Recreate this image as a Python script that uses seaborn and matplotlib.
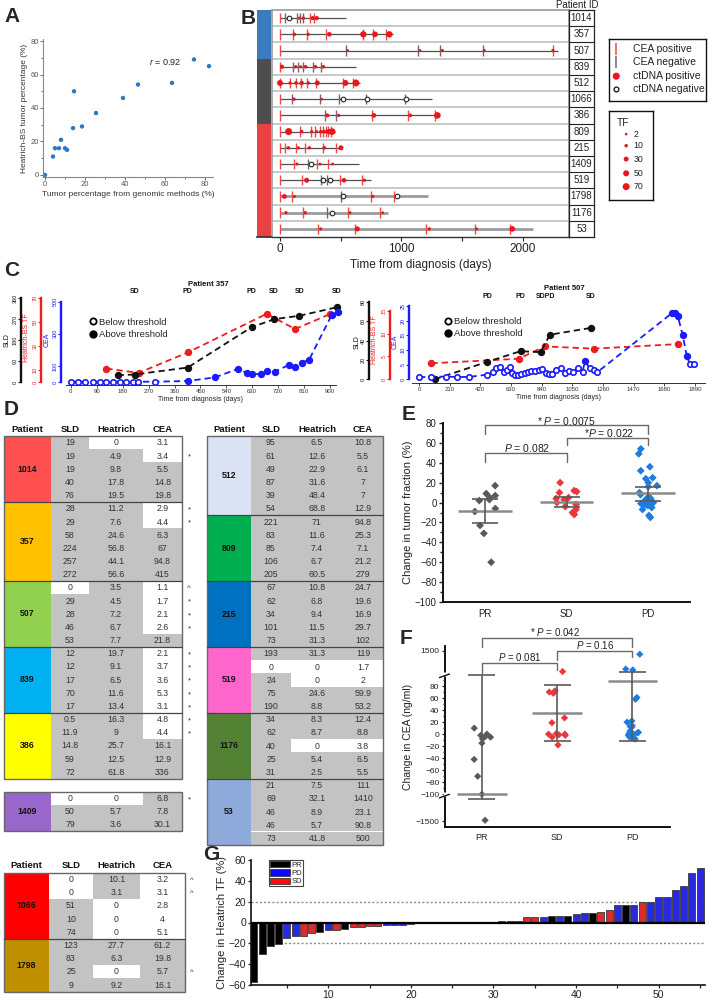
import numpy as np
import pandas as pd
import matplotlib
matplotlib.use("Agg")
import matplotlib.pyplot as plt
import seaborn as sns
from matplotlib.lines import Line2D
from matplotlib.patches import Patch, Rectangle
from matplotlib.ticker import MultipleLocator, FixedLocator
import matplotlib.transforms as mtrans

# ======================= DATA =======================
# Panel A
a_genomic = [0, 4, 5, 7, 8, 10, 11, 14, 14.5, 18.5, 25.5, 39, 46.5, 63.5, 74.5, 82]
a_heatrich = [0, 11, 16, 16, 21, 16, 15, 28, 50, 29, 37, 46, 54, 55, 69, 65]

# Panel B
b_ids = ['1014', '357', '507', '839', '512', '1066', '386', '809', '215', '1409', '519', '1798', '1176', '53']
b_group = ['blue'] * 3 + ['dark'] * 4 + ['red'] * 7
b_follow = [543, 933, 2290, 625, 658, 1248, 1317, 453, 502, 653, 749, 1221, 886, 2085]
b_cea_pos = [[0, 247, 283], [0, 104, 219, 379, 680, 768, 872], [0, 2247], [0],
             [0, 82, 128, 169, 219, 297, 516, 603], [0], [0, 754, 1056, 1275],
             [0, 165, 252, 288, 329, 357, 379, 398, 417], [0, 41, 132, 206, 351, 461],
             [0, 115, 302, 398], [0, 178, 494, 672], [0, 96, 746, 938], [0, 187, 559, 827],
             [0, 316, 617, 1201, 1607, 1893]]
b_cea_neg = [[41, 137, 165, 187], [], [543, 1138, 1317, 1668], [110, 151, 192, 269, 337], [],
             [96, 329, 486, 708, 1029], [370, 461], [], [], [233], [335, 390], [499], [384], []]
b_ct_pos_t = [[159, 192, 269, 302], [118, 233, 406, 686, 782, 900], [557, 1152, 1336, 1681, 2247],
              [16, 129, 170, 211, 291, 357], [0, 82, 132, 178, 233, 307, 538, 625], [115, 343],
              [390, 483, 773, 1072, 1295], [71, 178, 261, 302, 335, 362, 390, 411, 430],
              [69, 151, 241, 365, 502], [140, 329, 433], [219, 527, 694], [36, 118, 763],
              [49, 208, 576, 845], [335, 636, 1229, 1618, 1912]]
b_ct_pos_tf = [[4.9, 9.8, 17.8, 19.5], [11.2, 7.6, 24.6, 56.8, 44.1, 56.6], [3.5, 4.5, 7.2, 6.7, 7.7],
               [19.7, 9.1, 6.5, 11.6, 13.4, 12], [48, 6.5, 12.6, 22.9, 10, 31.6, 48.4, 68.8], [10.1, 3.1],
               [16.3, 9, 25.7, 12.5, 61.8], [71, 11.6, 7.4, 6.7, 10, 15, 20, 40, 60.5],
               [10.8, 6.8, 9.4, 11.5, 31.3], [5.7, 3.6, 5], [31.3, 24.6, 8.8], [27.7, 6.3, 9.2],
               [8.3, 8.7, 5.4, 2.5], [7.5, 32.1, 8.9, 5.7, 41.8]]
b_ct_neg_t = [[77], [], [], [], [], [516, 713, 1037], [], [], [], [255], [351, 411], [521, 966], [425], []]
b_tf_legend = [2, 10, 30, 50, 70]

# Panel C - patient 357
c1_sld_days = [162, 221, 406, 628, 706, 794, 923]
c1_sld = [29, 32, 62, 235, 269, 284, 320]
c1_tf_days = [123, 235, 406, 680, 779, 900]
c1_tf = [11.2, 7.6, 24.6, 56.8, 44.1, 56.6]
c1_cea_days = [0, 23, 50, 76, 100, 123, 146, 169, 192, 215, 233, 293, 406, 501, 582, 611, 628,
               660, 683, 709, 759, 779, 802, 828, 906, 929]
c1_cea = [2, 2, 2, 2, 2, 2, 2, 2, 2, 2, 2, 2, 6, 29, 83, 56, 52, 48, 67, 65, 108, 94, 119, 140, 417, 433]
c1_cea_above = [0] * 12 + [1] * 14
c1_resp = ['SD', 'PD', 'PD', 'SD', 'SD', 'SD']
c1_resp_days = [221, 406, 628, 706, 794, 923]

# Panel C - patient 507
c2_sld_days = [107, 466, 695, 832, 896, 1175]
c2_sld = [0, 18, 29, 28, 46, 53]
c2_tf_days = [85, 683, 861, 1197, 1771]
c2_tf = [3.5, 4.5, 7.2, 6.7, 7.7]
c2_cea_days = [0, 85, 187, 260, 343, 466, 507, 530, 553, 580, 603, 622, 640, 656, 679, 701, 729, 747,
               770, 797, 820, 843, 866, 889, 912, 941, 969, 999, 1026, 1056, 1090, 1120, 1136, 1170,
               1197, 1220, 1730, 1753, 1771, 1805, 1833, 1855, 1885]
c2_cea = [0.7, 0.9, 0.9, 0.8, 0.8, 1.6, 2.4, 3.7, 4.3, 2.6, 3.2, 4.3, 2.3, 1.5, 1.5, 1.7, 2.3, 2.4,
          2.8, 2.9, 3.2, 3.4, 2.3, 1.7, 1.7, 3.2, 3.7, 2.3, 3.0, 2.6, 3.7, 2.6, 6.2, 3.7, 3.2, 2.4,
          22.5, 22.7, 21.7, 15.1, 8.0, 5.1, 5.1]
c2_cea_above = [0] * 32 + [1] + [0] * 3 + [1] * 5 + [0] * 2
c2_resp = ['PD', 'PD', 'SDPD', 'SD']
c2_resp_days = [466, 695, 864, 1175]

# Panel D tables
d1_pat = ['1014', '357', '507', '839', '386']
d1_col = ['#ff5050', '#ffc000', '#92d050', '#00b0f0', '#ffff00']
d1_sld = [[19, 19, 19, 40, 76], [28, 29, 58, 224, 257, 272], [0, 29, 28, 46, 53], [12, 12, 17, 70, 17],
          [0.5, 11.9, 14.8, 59, 72]]
d1_hr = [[0, 4.9, 9.8, 17.8, 19.5], [11.2, 7.6, 24.6, 56.8, 44.1, 56.6], [3.5, 4.5, 7.2, 6.7, 7.7],
         [19.7, 9.1, 6.5, 11.6, 13.4], [16.3, 9, 25.7, 12.5, 61.8]]
d1_cea = [[3.1, 3.4, 5.5, 14.8, 19.8], [2.9, 4.4, 6.3, 67, 94.8, 415], [1.1, 1.7, 2.1, 2.6, 21.8],
          [2.1, 3.7, 3.6, 5.3, 3.1], [4.8, 4.4, 16.1, 12.9, 336]]
d1_white = [['HC', 'C', '', '', ''], ['C', 'C', '', '', '', ''], ['SC', 'C', 'C', 'C', ''],
            ['C', 'C', 'C', 'C', 'C'], ['C', 'C', '', '', '']]
d1_mark = [['', '*', '', '', ''], ['*', '*', '', '', '', ''], ['^', '*', '*', '*', ''],
           ['*', '*', '*', '*', '*'], ['*', '*', '', '', '']]

d2_pat = ['1409']
d2_col = ['#9966cc']
d2_sld = [[0, 50, 79]]
d2_hr = [[0, 5.7, 3.6]]
d2_cea = [[6.8, 7.8, 30.1]]
d2_white = [['SH', '', '']]
d2_mark = [['*', '', '']]

d3_pat = ['1066', '1798']
d3_col = ['#ff0000', '#bf8f00']
d3_sld = [[0, 0, 51, 10, 74], [123, 83, 25, 9]]
d3_hr = [[10.1, 3.1, 0, 0, 0], [27.7, 6.3, 0, 9.2]]
d3_cea = [[3.2, 3.1, 2.8, 4, 5.1], [61.2, 19.8, 5.7, 16.1]]
d3_white = [['SC', 'SC', 'HC', 'HC', 'HC'], ['', '', 'H', '']]
d3_mark = [['^', '^', '', '', ''], ['', '', '^', '']]

d4_pat = ['512', '809', '215', '519', '1176', '53']
d4_col = ['#dae3f3', '#00b050', '#0070c0', '#ff66cc', '#548235', '#8eaadb']
d4_sld = [[95, 61, 49, 87, 39, 54], [221, 83, 85, 106, 205], [67, 62, 34, 101, 73],
          [193, 0, 24, 75, 190], [34, 62, 40, 25, 31], [21, 69, 46, 46, 73]]
d4_hr = [[6.5, 12.6, 22.9, 31.6, 48.4, 68.8], [71, 11.6, 7.4, 6.7, 60.5], [10.8, 6.8, 9.4, 11.5, 31.3],
         [31.3, 0, 0, 24.6, 8.8], [8.3, 8.7, 0, 5.4, 2.5], [7.5, 32.1, 8.9, 5.7, 41.8]]
d4_cea = [[10.8, 5.5, 6.1, 7, 7, 12.9], [94.8, 25.3, 7.1, 21.2, 279], [24.7, 19.6, 16.9, 29.7, 102],
          [119, 1.7, 2, 59.9, 53.2], [12.4, 8.8, 3.8, 6.5, 5.5], [111, 1410, 23.1, 90.8, 500]]
d4_white = [[''] * 6, [''] * 5, [''] * 5, ['', 'SHC', 'HC', '', ''], ['', '', 'HC', '', ''], [''] * 5]
d4_mark = [[''] * 6, [''] * 5, [''] * 5, [''] * 5, [''] * 5, [''] * 5]

# Panel E
resp_order = ['PR', 'SD', 'PD']
e_pr = [17, 9, 7, 5, 3, 2, -6, -9, -23, -31, -60]
e_sd = [20, 12, 11, 10, 5, 4, 3, 0, -2, -4, -7, -10, -12]
e_pd = [54, 49, 36, 32, 25, 24, 20, 17, 16, 10, 8, 6, 5, 4, 3, 2, 2, 1, 0, -1, -2, -3, -5, -7, -13, -15]
e_mean = [-8, 1, 9.5]
e_lo = [-21, -4, 2]
e_hi = [4, 6, 16]

# Panel F
f_pr = [10, 0, -2, -3, -5, -8, -15, -42, -70, -100, -1450]
f_sd = [250, 72, 70, 68, 27, 19, 1, 0, 0, -1, -2, -5, -18]
f_pd = [1300, 400, 350, 61, 58, 22, 20, 14, 13, 12, 5, 3, 2, 1, 0, -2, -3, -5, -8]
f_mean = [-100, 35, 88]
f_lo = [-345, -12, -12]
f_hi = [98, 82, 220]

# Panel G
g_vals = [-57, -30, -22.5, -20.5, -15, -12.7, -12.7, -10, -8.7, -6.8, -6.8, -6.2, -4, -4, -3.4, -3.4,
          -2.8, -2.8, -2.5, -1.9, -0.8, -0.5, -0.3, -0.1, 0.1, 0.3, 0.4, 0.5, 0.6, 0.7, 1.0, 1.2, 1.5,
          5.0, 5.0, 5.3, 5.9, 5.9, 6.5, 8.0, 8.7, 9.3, 10.2, 12.1, 16.4, 16.4, 16.4, 19.5, 19.8, 24.2,
          24.2, 31.6, 35, 47.8, 52]
g_resp = ['PR', 'PR', 'PR', 'PR', 'PD', 'PD', 'SD', 'SD', 'PR', 'PD', 'SD', 'PR', 'SD', 'SD', 'SD', 'SD',
          'PD', 'PD', 'PD', 'PD', 'PD', 'PR', 'SD', 'PD', 'PR', 'PR', 'PR', 'PD', 'PD', 'PR', 'PD', 'PR', 'SD',
          'SD', 'SD', 'PD', 'PR', 'PD', 'PR', 'PD', 'PD', 'PR', 'SD', 'SD', 'PD', 'PR', 'PD', 'SD', 'PD', 'PD',
          'PD', 'PD', 'PD', 'PD', 'PD']

# ======================= SETUP =======================
sns.set_theme(style="ticks")
plt.rcParams["font.family"] = ["Liberation Sans", "DejaVu Sans"]
plt.rcParams["mathtext.fontset"] = "custom"
plt.rcParams["mathtext.rm"] = "Liberation Sans"
plt.rcParams["mathtext.it"] = "Liberation Sans:italic"

W, H = 718, 1000
fig = plt.figure(figsize=(W / 100, H / 100), dpi=100)
_cnt = [0]


def ax_px(x0, y0, x1, y1):
    _cnt[0] += 1
    return fig.add_axes([x0 / W, 1 - y1 / H, (x1 - x0) / W, (y1 - y0) / H], label=f"ax{_cnt[0]}")


def ftext(x, y, s, **kw):
    return fig.text(x / W, 1 - y / H, s, **kw)


for lab, (x, y) in {'A': (4, 17), 'B': (241, 19), 'C': (4, 270), 'D': (4, 410),
                    'E': (402, 415), 'F': (400, 638), 'G': (203, 855)}.items():
    ftext(x, y, lab, fontsize=15, fontweight='bold', va='center', ha='left')

# ======================= PANEL A =======================
axA = ax_px(43, 39, 213, 177)
sns.scatterplot(x=a_genomic, y=a_heatrich, ax=axA, color='#2e78c2', s=10, edgecolor='none', linewidth=0)
axA.set_xlim(-1, 84)
axA.set_ylim(-1.2, 81.2)
axA.set_xticks(range(0, 81, 20))
axA.set_yticks(range(0, 81, 20))
axA.yaxis.set_minor_locator(MultipleLocator(10))
axA.xaxis.set_minor_locator(MultipleLocator(10))
sns.despine(ax=axA)
for s in ('left', 'bottom'):
    axA.spines[s].set_color('#888888')
    axA.spines[s].set_linewidth(0.8)
axA.tick_params(which='both', labelsize=5.5, colors='#555555', length=2, width=0.6, pad=1)
axA.tick_params(which='minor', length=1.2)
axA.set_xlabel('Tumor percentage from genomic methods (%)', fontsize=6, labelpad=2, color='#333333')
axA.set_ylabel('Heatrich-BS tumor percentage (%)', fontsize=6, labelpad=2, color='#333333')
axA.text(52, 67.5, r'$r$ = 0.92', fontsize=6.5, va='center', color='#222222')

# ======================= PANEL B =======================
axB = ax_px(272, 10, 569, 237)
axB.set_xlim(-66, 2379)
axB.set_ylim(13.5, -0.5)
axB.hlines(np.arange(0.5, 13.5, 1), -66, 2379, color='#c4c4c4', lw=1.3, zorder=1)
for i in range(len(b_ids)):
    lc, lw = ('#9c9c9c', 2.0) if i >= 11 else ('#505050', 0.9)
    axB.hlines(i, 0, b_follow[i], color=lc, lw=lw, zorder=2)
    if b_cea_neg[i]:
        axB.vlines(b_cea_neg[i], i - 0.32, i + 0.32, color='#6a6a6a', lw=1.0, zorder=3)
    axB.vlines(b_cea_pos[i], i - 0.32, i + 0.32, color='#f04848', lw=1.0, zorder=3)
    axB.scatter(b_ct_pos_t[i], [i] * len(b_ct_pos_t[i]), s=[3 + 0.32 * t for t in b_ct_pos_tf[i]],
                color='#e8161d', edgecolor='none', zorder=4)
    if b_ct_neg_t[i]:
        axB.scatter(b_ct_neg_t[i], [i] * len(b_ct_neg_t[i]), s=11, facecolor='white',
                    edgecolor='#222222', linewidth=0.8, zorder=4)
axB.set_yticks([])
axB.set_xticks([0, 500, 1000, 1500, 2000])
axB.set_xticklabels(['0', '', '1000', '', '2000'])
axB.tick_params(axis='x', labelsize=8.5, length=3, width=0.8, pad=1, colors='#222222')
for s in ('top', 'right', 'left'):
    axB.spines[s].set_color('#9a9a9a')
    axB.spines[s].set_linewidth(1.2)
axB.spines['bottom'].set_color('#333333')
axB.spines['bottom'].set_linewidth(1.0)
axB.set_xlabel('Time from diagnosis (days)', fontsize=8.5, labelpad=3, color='#222222')

strip_colors = {'blue': '#3b7cbf', 'dark': '#4d4d4d', 'red': '#ea4142'}
axS = ax_px(257, 10, 271, 237)
axS.barh(range(len(b_ids)), 1, height=1.0, color=[strip_colors[g] for g in b_group], edgecolor='none')
axS.set_ylim(13.5, -0.5)
axS.set_xlim(0, 1)
axS.set_xticks([])
axS.set_yticks([])
for s in ('top', 'right', 'left'):
    axS.spines[s].set_visible(False)
axS.spines['bottom'].set_color('#333333')

axP = ax_px(569, 10, 594, 237)
axP.set_ylim(13.5, -0.5)
axP.set_xlim(0, 1)
axP.hlines(np.arange(0.5, 13.5, 1), 0, 1, color='#222222', lw=0.8)
for i, pid in enumerate(b_ids):
    axP.text(0.5, i, pid, ha='center', va='center', fontsize=7, color='#222222')
axP.set_xticks([])
axP.set_yticks([])
for s in axP.spines.values():
    s.set_color('#222222')
    s.set_linewidth(0.9)
ftext(577, 5, 'Patient ID', fontsize=7, ha='center', va='center', color='#222222')

axL1 = ax_px(609, 39, 706, 101)
axL1.set_xlim(0, 1)
axL1.set_ylim(0, 1)
axL1.set_xticks([])
axL1.set_yticks([])
for s in axL1.spines.values():
    s.set_color('#111111')
    s.set_linewidth(1.0)
axL1.vlines(0.075, 0.74, 0.94, color='#f04848', lw=1.1)
axL1.vlines(0.075, 0.53, 0.73, color='#6a6a6a', lw=1.1)
axL1.scatter([0.075], [0.40], s=26, color='#e8161d', edgecolor='none')
axL1.scatter([0.075], [0.19], s=12, facecolor='white', edgecolor='#111111', linewidth=0.9)
for yy, tx in zip([0.84, 0.63, 0.40, 0.19], ['CEA positive', 'CEA negative', 'ctDNA positive', 'ctDNA negative']):
    axL1.text(0.25, yy, tx, fontsize=7.5, va='center', color='#222222')

axL2 = ax_px(609, 111, 653, 200)
axL2.set_xlim(0, 1)
axL2.set_ylim(0, 1)
axL2.set_xticks([])
axL2.set_yticks([])
for s in axL2.spines.values():
    s.set_color('#111111')
    s.set_linewidth(1.0)
axL2.text(0.17, 0.86, 'TF', fontsize=7.5, va='center', color='#222222')
for yy, tf in zip([0.74, 0.61, 0.46, 0.30, 0.15], b_tf_legend):
    axL2.scatter([0.39], [yy], s=3 + 0.32 * tf, color='#e8161d', edgecolor='none')
    axL2.text(0.55, yy, str(tf), fontsize=6.3, va='center', color='#222222')


# ======================= PANEL C =======================
def c_yaxis(rect, ylim, bounds, ticks, color, off_px, xlim):
    ax = ax_px(*rect)
    ax.patch.set_alpha(0)
    for s in ('top', 'right', 'bottom'):
        ax.spines[s].set_visible(False)
    sp = ax.spines['left']
    sp.set_position(('outward', off_px * 0.72))
    sp.set_color(color)
    sp.set_linewidth(1.7)
    sp.set_bounds(*bounds)
    ax.set_ylim(*ylim)
    ax.set_xlim(*xlim)
    ax.set_yticks(ticks)
    ax.tick_params(axis='y', colors=color, labelsize=4, length=2, width=0.8, pad=0.5)
    for t in ax.get_yticklabels():
        t.set_rotation(90)
        t.set_va('center')
    ax.set_xticks([])
    return ax


def c_series(ax, x, y, color, above=None):
    x = np.asarray(x, float)
    y = np.asarray(y, float)
    ax.plot(x, y, ls=(0, (3.5, 2.2)), color=color, lw=1.3, zorder=2, clip_on=False)
    if above is None:
        above = np.ones(len(x), bool)
    above = np.asarray(above, bool)
    ax.plot(x[above], y[above], 'o', ms=4.3, color=color, zorder=3, clip_on=False)
    ax.plot(x[~above], y[~above], 'o', ms=3.9, mfc='white', mec=color, mew=1.2, zorder=3, clip_on=False)


def c_xaxis(rect, xlim, xticks, fs):
    ax = ax_px(*rect)
    ax.patch.set_alpha(0)
    for s in ('top', 'right', 'left'):
        ax.spines[s].set_visible(False)
    ax.spines['bottom'].set_color('#333333')
    ax.spines['bottom'].set_linewidth(0.7)
    ax.set_xlim(*xlim)
    ax.set_yticks([])
    ax.set_xticks(xticks)
    ax.tick_params(axis='x', labelsize=fs, length=2, width=0.6, pad=1, colors='#333333')
    ax.set_xlabel('Time from diagnosis (days)', fontsize=5, labelpad=1.5, color='#222222')
    return ax


# left: patient 357
c1_rect = (66, 297, 336, 385)
c1_xlim = (-17, 921)
c_xaxis(c1_rect, c1_xlim, range(0, 901, 90), 4.3)
axC1r = c_yaxis(c1_rect, (-2.5, 70.8), (0, 70), [0, 10, 30, 50, 70], '#ee1c1c', 25, c1_xlim)
axC1k = c_yaxis(c1_rect, (-12.9, 364.3), (0, 360), [0, 90, 180, 270, 360], '#111111', 45, c1_xlim)
axC1b = c_yaxis(c1_rect, (-18.7, 529), (0, 500), [0, 100, 300, 500], '#1a1aff', 5, c1_xlim)
c_series(axC1r, c1_tf_days, c1_tf, '#ee1c1c')
c_series(axC1k, c1_sld_days, c1_sld, '#111111')
c_series(axC1b, c1_cea_days, c1_cea, '#1a1aff', c1_cea_above)
for d, r in zip(c1_resp_days, c1_resp):
    axC1b.text(d, 1.06, r, transform=mtrans.blended_transform_factory(axC1b.transData, axC1b.transAxes),
               ha='center', va='center', fontsize=5, fontweight='bold', color='#111111')
ftext(208, 284, 'Patient 357', fontsize=5.5, fontweight='bold', ha='center', va='center', color='#111111')
ftext(7, 340, 'SLD', fontsize=5, rotation=90, ha='center', va='center', color='#111111')
ftext(27, 338, 'Heatrich-BS TF', fontsize=5, rotation=90, ha='center', va='center', color='#ee1c1c')
ftext(47, 340, 'CEA', fontsize=5, rotation=90, ha='center', va='center', color='#1a1aff')
leg_h = [Line2D([], [], ls='none', marker='o', ms=4.5, mfc='white', mec='black', mew=1.3),
         Line2D([], [], ls='none', marker='o', ms=5, color='black')]
axC1b.legend(leg_h, ['Below threshold', 'Above threshold'], loc='upper left', bbox_to_anchor=(0.07, 0.82),
             frameon=False, fontsize=6.8, handlelength=0.8, handletextpad=0.2, borderpad=0, labelspacing=0.35)

# right: patient 507
c2_rect = (412, 300, 705, 383)
c2_xlim = (-48, 1958)
c_xaxis(c2_rect, c2_xlim, range(0, 1891, 210), 4.3)
axC2r = c_yaxis(c2_rect, (-0.81, 17.35), (0, 15), [0, 5, 10, 15], '#ee1c1c', 22, c2_xlim)
axC2k = c_yaxis(c2_rect, (-3.8, 81.8), (0, 80), [0, 20, 40, 60, 80], '#111111', 43, c2_xlim)
axC2b = c_yaxis(c2_rect, (-1.26, 27.05), (0, 25), [0, 5, 10, 15, 20, 25], '#1a1aff', 3, c2_xlim)
c_series(axC2r, c2_tf_days, c2_tf, '#ee1c1c')
c_series(axC2k, c2_sld_days, c2_sld, '#111111')
c_series(axC2b, c2_cea_days, c2_cea, '#1a1aff', c2_cea_above)
for d, r in zip(c2_resp_days, c2_resp):
    axC2b.text(d, 1.04, r, transform=mtrans.blended_transform_factory(axC2b.transData, axC2b.transAxes),
               ha='center', va='center', fontsize=5, fontweight='bold', color='#111111')
ftext(564, 289, 'Patient 507', fontsize=5.5, fontweight='bold', ha='center', va='center', color='#111111')
ftext(357, 342, 'SLD', fontsize=5, rotation=90, ha='center', va='center', color='#111111')
ftext(375, 340, 'Heatrich-BS TF', fontsize=5, rotation=90, ha='center', va='center', color='#ee1c1c')
ftext(395, 342, 'CEA', fontsize=5, rotation=90, ha='center', va='center', color='#1a1aff')
axC2b.legend(leg_h, ['Below threshold', 'Above threshold'], loc='upper left', bbox_to_anchor=(0.095, 0.85),
             frameon=False, fontsize=6.8, handlelength=0.8, handletextpad=0.2, borderpad=0, labelspacing=0.35)

# ======================= PANEL D =======================
axD = ax_px(0, 400, 400, 1000)
axD.set_xlim(0, 400)
axD.set_ylim(1000, 400)
axD.axis('off')


def draw_table(ax, pats, pcols, sld, hr, cea, white, marks, edges, top, rh, mark_x, header_y):
    if header_y is not None:
        for j, name in enumerate(['Patient', 'SLD', 'Heatrich', 'CEA']):
            ax.text((edges[j] + edges[j + 1]) / 2, header_y, name, ha='center', va='center',
                    fontsize=6.8, fontweight='bold', color='#111111')
    r = 0
    for g, pid in enumerate(pats):
        n = len(sld[g])
        y0 = top + r * rh
        ax.add_patch(Rectangle((edges[0], y0), edges[1] - edges[0], n * rh, facecolor=pcols[g], edgecolor='none'))
        ax.text((edges[0] + edges[1]) / 2, y0 + n * rh / 2, pid, ha='center', va='center',
                fontsize=6.3, fontweight='bold', color='#111111')
        for k in range(n):
            yk = y0 + k * rh
            for c, col in enumerate([sld, hr, cea]):
                fc = 'white' if 'SHC'[c] in white[g][k] else '#c3c3c3'
                ax.add_patch(Rectangle((edges[c + 1], yk), edges[c + 2] - edges[c + 1], rh,
                                       facecolor=fc, edgecolor='none'))
                ax.text((edges[c + 1] + edges[c + 2]) / 2, yk + rh / 2 + 0.3, f"{col[g][k]:g}",
                        ha='center', va='center', fontsize=6.3, color='#333333')
            if marks[g][k]:
                ax.text(mark_x, yk + rh / 2 + (1.5 if marks[g][k] == '*' else 1.0), marks[g][k],
                        ha='center', va='center', fontsize=5.5, color='#333333')
        if g > 0:
            ax.plot([edges[0], edges[-1]], [y0, y0], color='#444444', lw=0.9)
        r += n
    ax.add_patch(Rectangle((edges[0], top), edges[-1] - edges[0], r * rh, fill=False,
                           edgecolor='#666666', lw=1.0))


draw_table(axD, d1_pat, d1_col, d1_sld, d1_hr, d1_cea, d1_white, d1_mark,
           [4, 51, 89, 143, 182], 436.1, 13.17, 189, 429)
draw_table(axD, d2_pat, d2_col, d2_sld, d2_hr, d2_cea, d2_white, d2_mark,
           [4, 51, 89, 143, 182], 791.5, 13.2, 189, None)
draw_table(axD, d3_pat, d3_col, d3_sld, d3_hr, d3_cea, d3_white, d3_mark,
           [4, 49, 93, 140, 185], 872.7, 13.2, 192, 865)
draw_table(axD, d4_pat, d4_col, d4_sld, d4_hr, d4_cea, d4_white, d4_mark,
           [207, 251, 291, 343, 383], 436.1, 13.18, 390, 429)

# ======================= PANEL E =======================
resp_pal = {'PR': '#595959', 'SD': '#e8383d', 'PD': '#1e7be0'}
e_df = pd.DataFrame({'resp': ['PR'] * len(e_pr) + ['SD'] * len(e_sd) + ['PD'] * len(e_pd),
                     'val': e_pr + e_sd + e_pd})
np.random.seed(4)
axE = ax_px(443, 423, 690, 602)
sns.stripplot(data=e_df, x='resp', y='val', hue='resp', order=resp_order, palette=resp_pal, marker='D',
              size=4, jitter=0.13, linewidth=0, ax=axE, legend=False, zorder=3)
for i in range(3):
    axE.hlines(e_mean[i], i - 0.33, i + 0.33, color='#8a8a8a', lw=1.8, zorder=4)
    axE.vlines(i, e_lo[i], e_hi[i], color='#5a5a5a', lw=1.2, zorder=4)
    axE.hlines([e_lo[i], e_hi[i]], i - 0.16, i + 0.16, color='#5a5a5a', lw=1.2, zorder=4)
axE.set_xlim(-0.52, 2.52)
axE.set_ylim(-100, 80)
axE.set_yticks(range(-100, 81, 20))
axE.set_yticklabels(['\u2212' + str(-v) if v < 0 else str(v) for v in range(-100, 81, 20)])
axE.yaxis.set_minor_locator(MultipleLocator(10))
sns.despine(ax=axE)
for s in ('left', 'bottom'):
    axE.spines[s].set_color('#111111')
    axE.spines[s].set_linewidth(1.4)
axE.tick_params(which='both', labelsize=7, length=3, width=1.0, pad=1.5, colors='#222222')
axE.tick_params(axis='x', length=0, pad=5)
axE.tick_params(which='minor', length=2)
axE.set_xlabel('')
axE.set_ylabel('Change in tumor fraction (%)', fontsize=8, labelpad=1, color='#222222')
br = dict(color='#6a6a6a', lw=1.0, clip_on=False)
axE.plot([0, 0, 2, 2], [69, 78, 78, 69], **br)
axE.plot([1, 1, 2, 2], [58, 65, 65, 57.5], **br)
axE.plot([0, 0, 1, 1], [41, 49.5, 49.5, 41], **br)
axE.text(1.0, 82.3, r'* $P$ = 0.0075', ha='center', va='center', fontsize=7.5, color='#222222')
axE.text(1.53, 69.6, r'*$P$ = 0.022', ha='center', va='center', fontsize=7.5, color='#222222')
axE.text(0.52, 55, r'$P$ = 0.082', ha='center', va='center', fontsize=7.5, color='#222222')

# ======================= PANEL F =======================
K_UP, K_LO = 0.0274, 0.032


def f_fwd(y):
    y = np.asarray(y, float)
    return np.where(y > 100, 100 + (y - 100) * K_UP, np.where(y < -100, -100 + (y + 100) * K_LO, y))


def f_inv(y):
    y = np.asarray(y, float)
    return np.where(y > 100, 100 + (y - 100) / K_UP, np.where(y < -100, -100 + (y + 100) / K_LO, y))


f_df = pd.DataFrame({'resp': ['PR'] * len(f_pr) + ['SD'] * len(f_sd) + ['PD'] * len(f_pd),
                     'val': f_pr + f_sd + f_pd})
axF = ax_px(445, 646, 670, 827)
np.random.seed(7)
sns.stripplot(data=f_df, x='resp', y='val', hue='resp', order=resp_order, palette=resp_pal, marker='D',
              size=3.7, jitter=0.12, linewidth=0, ax=axF, legend=False, zorder=3)
axF.set_yscale('function', functions=(f_fwd, f_inv))
axF.set_ylim(-1800, 1800)
axF.set_xlim(-0.49, 2.5)
for i in range(3):
    axF.hlines(f_mean[i], i - 0.33, i + 0.33, color='#8a8a8a', lw=1.8, zorder=4)
    axF.vlines(i, f_lo[i], f_hi[i], color='#5a5a5a', lw=1.2, zorder=4)
    axF.hlines([f_lo[i], f_hi[i]], i - 0.18, i + 0.18, color='#5a5a5a', lw=1.2, zorder=4)
f_ticks = [-1500, -100, -80, -60, -40, -20, 0, 20, 40, 60, 80, 1500]
axF.yaxis.set_major_locator(FixedLocator(f_ticks))
axF.set_yticklabels(['\u2212' + str(-v) if v < 0 else str(v) for v in f_ticks])
axF.yaxis.set_minor_locator(FixedLocator([-90, -70, -50, -30, -10, 10, 30, 50, 70, 90]))
sns.despine(ax=axF)
for s in ('left', 'bottom'):
    axF.spines[s].set_color('#111111')
    axF.spines[s].set_linewidth(1.4)
axF.tick_params(which='both', labelsize=6, length=2.5, width=0.9, pad=1.5, colors='#222222')
axF.tick_params(which='minor', length=1.5)
axF.tick_params(axis='x', length=0, pad=4, labelsize=6.5)
axF.set_xlabel('')
axF.set_ylabel('Change in CEA (ng/ml)', fontsize=7.5, labelpad=2, color='#222222')
lo_f, hi_f = f_fwd(-1800), f_fwd(1800)
for yb in (100, -100):
    fr = float((f_fwd(yb) - lo_f) / (hi_f - lo_f))
    axF.plot([0, 0], [fr - 0.012, fr + 0.012], transform=axF.transAxes, color='white', lw=2.5,
             clip_on=False, zorder=6, solid_capstyle='butt')
    axF.plot([-0.025, 0.02], [fr - 0.02, fr + 0.0], transform=axF.transAxes, color='#111111', lw=1.0,
             clip_on=False, zorder=7)
tF = mtrans.blended_transform_factory(axF.transData, axF.transAxes)
brF = dict(color='#6a6a6a', lw=1.0, clip_on=False, transform=tF)
axF.plot([0, 0, 1, 1], [0.85, 0.906, 0.906, 0.867], **brF)
axF.plot([1, 1, 2, 2], [0.923, 0.974, 0.974, 0.941], **brF)
axF.plot([0, 0, 2, 2], [0.993, 1.043, 1.043, 0.993], **brF)
axF.text(0.5, 0.941, r'$P$ = 0.081', transform=tF, ha='center', va='center', fontsize=7, color='#222222')
axF.text(1.5, 1.006, r'$P$ = 0.16', transform=tF, ha='center', va='center', fontsize=7, color='#222222')
axF.text(0.97, 1.079, r'* $P$ = 0.042', transform=tF, ha='center', va='center', fontsize=7, color='#222222')

# ======================= PANEL G =======================
g_pal = {'PR': '#000000', 'PD': '#0a0aff', 'SD': '#ff0a0a'}
g_df = pd.DataFrame({'rank': np.arange(1, len(g_vals) + 1), 'val': g_vals, 'resp': g_resp})
axG = ax_px(251, 860, 705, 985)
axG.axhline(20, ls=(0, (1.5, 1.5)), color='#8a8a8a', lw=1.0, zorder=0)
axG.axhline(-20, ls=(0, (1.5, 1.5)), color='#8a8a8a', lw=1.0, zorder=0)
sns.barplot(data=g_df, x='rank', y='val', hue='resp', palette=g_pal, native_scale=True, dodge=False,
            width=0.85, edgecolor='#3a3a3a', linewidth=0.6, ax=axG, legend=False, zorder=2)
axG.axhline(0, color='#000000', lw=1.6, zorder=3)
axG.set_xlim(0.65, 55.6)
axG.set_ylim(-59, 60)
axG.set_xticks([10, 20, 30, 40, 50])
axG.xaxis.set_minor_locator(FixedLocator([5, 15, 25, 35, 45, 55]))
axG.set_yticks(range(-60, 61, 20))
axG.set_yticklabels(['\u2212' + str(-v) if v < 0 else str(v) for v in range(-60, 61, 20)])
sns.despine(ax=axG)
for s in ('left', 'bottom'):
    axG.spines[s].set_color('#111111')
    axG.spines[s].set_linewidth(1.2)
axG.tick_params(which='both', labelsize=7.5, length=2.5, width=0.9, pad=1, colors='#222222')
axG.tick_params(which='minor', length=2)
axG.set_xlabel('')
axG.set_ylabel('Change in Heatrich TF (%)', fontsize=8, labelpad=1, color='#222222')
g_handles = [Patch(facecolor=g_pal[k], edgecolor='#3a3a3a', linewidth=0.6) for k in ['PR', 'PD', 'SD']]
lg = axG.legend(g_handles, ['PR', 'PD', 'SD'], loc='upper left', bbox_to_anchor=(0.04, 1.0), fontsize=5.5,
                handlelength=2.6, handleheight=0.9, handletextpad=0.15, labelspacing=0.05, borderpad=0.15,
                borderaxespad=0, fancybox=False, framealpha=1)
lg.get_frame().set_edgecolor('#444444')
lg.get_frame().set_linewidth(0.8)

fig.savefig('out.png', dpi=100)
